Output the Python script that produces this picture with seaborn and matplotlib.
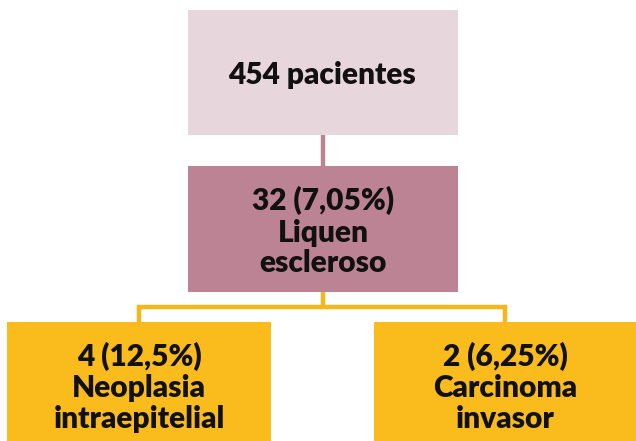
import matplotlib
matplotlib.use("Agg")
import matplotlib.pyplot as plt
from matplotlib.patches import Rectangle
import seaborn as sns

# ---- data ----
total_patients = 454
total_label = "pacientes"
node_counts = [32, 4, 2]
node_percents = ["7,05", "12,5", "6,25"]
node_names = [["Liquen", "escleroso"], ["Neoplasia", "intraepitelial"], ["Carcinoma", "invasor"]]

# ---- style ----
sns.set_theme(style="white")
plt.rcParams["font.family"] = ["Lato", "DejaVu Sans"]

C_TOP = "#E8D6DD"
C_MID = "#BC8394"
C_LEAF = "#F9BC1C"
C_LINE_Y = "#F6B71A"

fig = plt.figure(figsize=(6.36, 4.41), dpi=100)
ax = fig.add_axes([0, 0, 1, 1])
ax.set_xlim(0, 636)
ax.set_ylim(441, 0)
ax.axis("off")

# boxes: (x0, y0, x1, y1)
boxes = {
    "top": (188, 10, 458, 135),
    "mid": (188, 166, 458, 292),
    "left": (7, 322, 271, 441),
    "right": (374, 322, 636, 441),
}
colors = {"top": C_TOP, "mid": C_MID, "left": C_LEAF, "right": C_LEAF}

for k, (x0, y0, x1, y1) in boxes.items():
    ax.add_patch(Rectangle((x0, y0), x1 - x0, y1 - y0, facecolor=colors[k],
                           edgecolor="none", zorder=2))

# connectors
lw = 3.2
ax.plot([322.5, 322.5], [135, 166], color=C_MID, lw=lw, solid_capstyle="butt", zorder=1)
ax.plot([322.5, 322.5], [292, 307], color=C_LINE_Y, lw=lw, solid_capstyle="butt", zorder=1)
ax.plot([139, 505], [307, 307], color=C_LINE_Y, lw=lw, solid_capstyle="projecting", zorder=1)
ax.plot([139, 139], [307, 322], color=C_LINE_Y, lw=lw, solid_capstyle="butt", zorder=1)
ax.plot([505, 505], [307, 322], color=C_LINE_Y, lw=lw, solid_capstyle="butt", zorder=1)

fs = 21.5
tkw = dict(fontsize=fs, fontweight="heavy", color="#111111", ha="center",
           va="baseline", zorder=3)

# top label
ax.text(322, 84, f"{total_patients} {total_label}", **tkw)

# node labels
centers = [(323, [210, 242, 272]), (139, [366, 397, 428]), (505, [366, 397, 428])]
for (cx, ys), n, p, names in zip(centers, node_counts, node_percents, node_names):
    lines = [f"{n} ({p}%)"] + names
    for y, line in zip(ys, lines):
        ax.text(cx, y, line, **tkw)

fig.savefig("out.png", dpi=100)
